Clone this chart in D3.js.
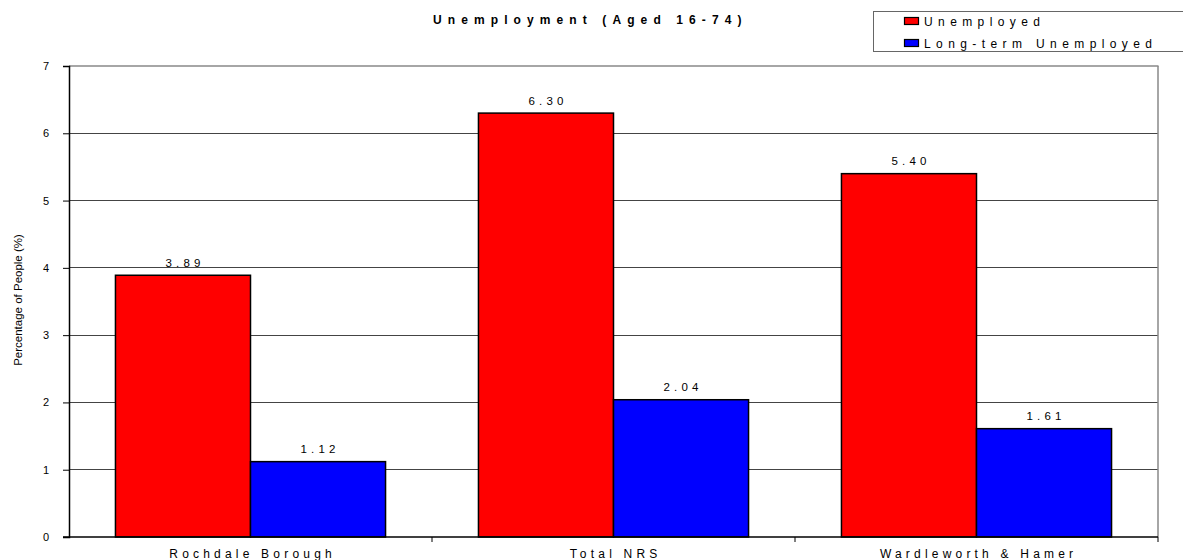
<!DOCTYPE html>
<html><head><meta charset="utf-8">
<script src="https://cdn.jsdelivr.net/npm/d3@7"></script>
<style>body{margin:0;background:#fff}svg{display:block;font-family:"Liberation Sans",Arial,sans-serif}</style>
</head><body>
<svg id="c" width="1183" height="560"></svg>
<script>
const categories = ["Rochdale Borough", "Total NRS", "Wardleworth & Hamer"];
const seriesNames = ["Unemployed", "Long-term Unemployed"];
const unemployed = [3.89, 6.30, 5.40];
const longTerm = [1.12, 2.04, 1.61];
const labels = [["3.89", "6.30", "5.40"], ["1.12", "2.04", "1.61"]];
const yTicks = [0, 1, 2, 3, 4, 5, 6, 7];
const colors = ["#ff0000", "#0000ff"];
const title = "Unemployment (Aged 16-74)";
const yTitle = "Percentage of People (%)";

const svg = d3.select("#c");
const L = 69, R = 1158, T = 66, B = 537;
const y = d3.scaleLinear().domain([0, 7]).range([B, T]);
const x0 = d3.scaleBand().domain(categories).range([L, R]).padding(0);
const x1 = d3.scaleBand().domain(seriesNames).range([0, x0.bandwidth()]).paddingInner(0).paddingOuter(0.344);
const values = [unemployed, longTerm];

// gridlines
svg.append("g").selectAll("line").data(yTicks.filter(d => d > 0 && d < 7)).join("line")
  .attr("x1", L).attr("x2", R).attr("y1", d => y(d)).attr("y2", d => y(d))
  .attr("stroke", "#444").attr("stroke-width", 1).attr("shape-rendering", "crispEdges");
// top and right border
svg.append("line").attr("x1", L).attr("x2", R + 0.5).attr("y1", y(7)).attr("y2", y(7)).attr("stroke", "#888").attr("stroke-width", 1.5);
svg.append("line").attr("x1", R).attr("x2", R).attr("y1", y(7)).attr("y2", B).attr("stroke", "#888").attr("stroke-width", 1.5);

// bars
const g = svg.append("g");
seriesNames.forEach((s, si) => {
  g.selectAll(".b" + si).data(categories).join("rect")
    .attr("x", c => x0(c) + x1(s)).attr("width", x1.bandwidth())
    .attr("y", (c, i) => y(values[si][i])).attr("height", (c, i) => B - y(values[si][i]))
    .attr("fill", colors[si]).attr("stroke", "#000").attr("stroke-width", 1.5);
  g.selectAll(".l" + si).data(categories).join("text")
    .attr("x", c => x0(c) + x1(s) + x1.bandwidth() / 2 + 2.1)
    .attr("y", (c, i) => y(values[si][i]) - 8.5)
    .attr("text-anchor", "middle").attr("font-size", 11.5).attr("letter-spacing", 4.2)
    .text((c, i) => labels[si][i]);
});

// y axis
const yAxis = d3.axisLeft(y).tickValues(yTicks).tickSize(6).tickPadding(14).tickFormat(d3.format("d"));
const ya = svg.append("g").attr("transform", `translate(${L},0)`).call(yAxis);
ya.select(".domain").attr("stroke", "#000").attr("stroke-width", 1.5);
ya.selectAll("text").attr("font-size", 11).attr("font-family", "Liberation Sans, Arial, sans-serif").attr("fill", "#000");

// x axis
const xa = svg.append("g").attr("transform", `translate(0,${B})`);
xa.append("line").attr("x1", L - 6).attr("x2", R).attr("y1", 0).attr("y2", 0).attr("stroke", "#000").attr("stroke-width", 1.5);
xa.selectAll(".tk").data(categories).join("line")
  .attr("x1", c => x0(c) + x0.bandwidth()).attr("x2", c => x0(c) + x0.bandwidth())
  .attr("y1", 0).attr("y2", 5).attr("stroke", "#000");
xa.selectAll(".cl").data(categories).join("text")
  .attr("x", c => x0(c) + x0.bandwidth() / 2 + 2.1).attr("y", 21)
  .attr("text-anchor", "middle").attr("font-size", 12).attr("letter-spacing", 4.2)
  .text(c => c);

// y title
svg.append("text").attr("transform", "translate(22,300) rotate(-90)")
  .attr("text-anchor", "middle").attr("font-size", 11.5).text(yTitle);

// title
svg.append("text").attr("x", 433).attr("y", 24).attr("font-size", 12).attr("font-weight", "bold")
  .attr("letter-spacing", 6.1).text(title);

// legend
svg.append("rect").attr("x", 873.5).attr("y", 11.5).attr("width", 330).attr("height", 40)
  .attr("fill", "#fff").attr("stroke", "#666").attr("stroke-width", 1);
seriesNames.forEach((s, i) => {
  svg.append("rect").attr("x", 904.5).attr("y", 17.5 + i * 22).attr("width", 14).attr("height", 7)
    .attr("fill", colors[i]).attr("stroke", "#000").attr("stroke-width", 1.2);
  svg.append("text").attr("x", 924).attr("y", 26 + i * 22).attr("font-size", 12)
    .attr("letter-spacing", 5.4).text(s);
});
</script>
</body></html>
